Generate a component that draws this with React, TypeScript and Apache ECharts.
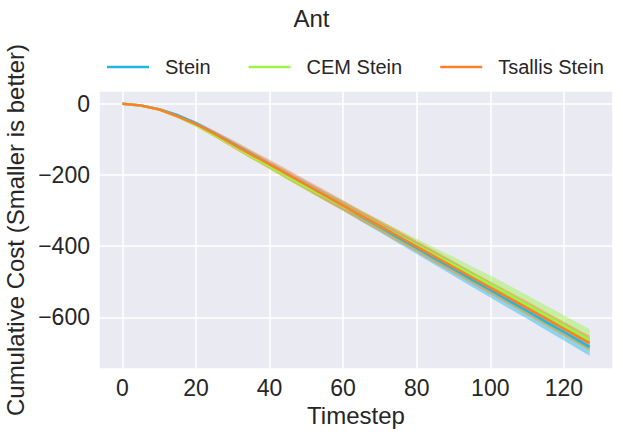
import React, { useEffect, useRef } from "react";
import * as echarts from "echarts";

const title = "Ant";
const xAxisName = "Timestep";
const yAxisName = "Cumulative Cost (Smaller is better)";

const timesteps = [0, 5, 10, 15, 20, 25, 30, 35, 40, 45, 50, 55, 60, 65, 70, 75, 80, 85, 90, 95, 100, 105, 110, 115, 120, 125, 127];

const seriesNames = ["Stein", "CEM Stein", "Tsallis Stein"];
const seriesColors = ["#22B6E8", "#9CF545", "#FF7F27"];

const steinMean = [0, -5, -15, -32, -55, -83, -112, -141, -171, -200, -229, -258, -287, -317, -346, -376, -405, -435, -464, -494, -523, -553, -582, -612, -641, -671, -683];
const steinSpread = [0, 1, 3, 4, 5, 6, 7, 8, 9, 10, 11, 12, 13, 14, 15, 16, 17, 18, 19, 20, 21, 21, 22, 23, 24, 25, 25];

const cemMean = [0, -5, -16, -36, -60, -88, -117, -147, -176, -205, -234, -261, -288, -315, -343, -370, -397, -425, -452, -480, -507, -536, -565, -594, -623, -652, -664];
const cemSpread = [0, 1, 2, 3, 4, 5, 6, 7, 8, 9, 10, 11, 12, 14, 15, 17, 18, 20, 22, 23, 25, 26, 27, 28, 29, 30, 31];

const tsallisMean = [0, -5, -16, -35, -57, -84, -113, -142, -170, -199, -228, -257, -286, -315, -343, -372, -401, -430, -459, -488, -517, -545, -574, -603, -632, -661, -672];
const tsallisSpread = [0, 1, 3, 5, 7, 9, 11, 12, 13, 14, 14, 15, 15, 15, 16, 16, 16, 17, 17, 17, 18, 18, 19, 19, 20, 20, 21];

const means = [steinMean, cemMean, tsallisMean];
const spreads = [steinSpread, cemSpread, tsallisSpread];

const FONT = "'Liberation Sans', Arial, sans-serif";
const TEXT = "#262626";

export default function App() {
  const ref = useRef<HTMLDivElement>(null);
  useEffect(() => {
    document.body.style.margin = "0";
    const chart = echarts.init(ref.current!, undefined, { renderer: "svg" });
    const series: any[] = [];
    seriesNames.forEach((name, k) => {
      const mean = means[k];
      const spread = spreads[k];
      const color = seriesColors[k];
      const bandData = timesteps.map((t, i) => [t, mean[i] - spread[i], mean[i] + spread[i]]);
      series.push({
        name: name + " band",
        type: "custom",
        data: bandData,
        encode: { x: 0, y: [1, 2] },
        silent: true,
        clip: true,
        renderItem: (params: any, api: any) => {
          if (params.dataIndex !== 0) return null;
          const upper = bandData.map((d) => api.coord([d[0], d[2]]));
          const lower = bandData.map((d) => api.coord([d[0], d[1]])).reverse();
          return {
            type: "polygon",
            shape: { points: upper.concat(lower) },
            style: { fill: color, opacity: 0.45 },
          };
        },
      });
      series.push({
        name,
        type: "line",
        data: timesteps.map((t, i) => [t, mean[i]]),
        symbol: "none",
        color,
        itemStyle: { color },
        lineStyle: { color, width: 2.5 },
      });
    });

    chart.setOption({
      animation: false,
      title: {
        text: title,
        left: "center",
        top: 1,
        textStyle: { fontFamily: FONT, fontSize: 24, fontWeight: "normal", color: TEXT },
      },
      legend: {
        data: seriesNames,
        left: 102,
        top: 52,
        itemWidth: 53,
        itemHeight: 2.5,
        itemGap: 38,
        icon: "path://M0,0 H42 V2.5 H0 Z M53,0 L53,2.5",
        textStyle: { fontFamily: FONT, fontSize: 20, color: TEXT },
      },
      grid: {
        left: 99,
        right: 10,
        top: 91,
        bottom: 68,
        show: true,
        backgroundColor: "#EAEAF2",
        borderWidth: 0,
        containLabel: false,
        outerBoundsMode: "none",
      },
      xAxis: {
        type: "value",
        min: -6.35,
        max: 133.35,
        splitNumber: 7,
        name: xAxisName,
        nameLocation: "middle",
        nameGap: 27,
        nameTextStyle: { fontFamily: FONT, fontSize: 24, color: TEXT },
        axisLine: { show: false },
        axisTick: { show: false },
        axisLabel: { fontFamily: FONT, fontSize: 23, color: TEXT, margin: 7, showMinLabel: false, showMaxLabel: false },
        splitLine: { show: true, lineStyle: { color: "#FFFFFF", width: 1.5 } },
      },
      yAxis: {
        type: "value",
        min: -745,
        max: 36,
        splitNumber: 4,
        name: yAxisName,
        nameLocation: "middle",
        nameGap: 65,
        nameTextStyle: { fontFamily: FONT, fontSize: 24, color: TEXT },
        axisLine: { show: false },
        axisTick: { show: false },
        axisLabel: {
          fontFamily: FONT,
          fontSize: 23,
          color: TEXT,
          margin: 9,
          showMinLabel: false,
          showMaxLabel: false,
          formatter: (v: number) => (v < 0 ? "\u2212" + Math.abs(v) : String(v)),
        },
        splitLine: { show: true, lineStyle: { color: "#FFFFFF", width: 1.5 } },
      },
      series,
    });
    return () => chart.dispose();
  }, []);
  return <div ref={ref} style={{ width: 623, height: 437 }} />;
}
